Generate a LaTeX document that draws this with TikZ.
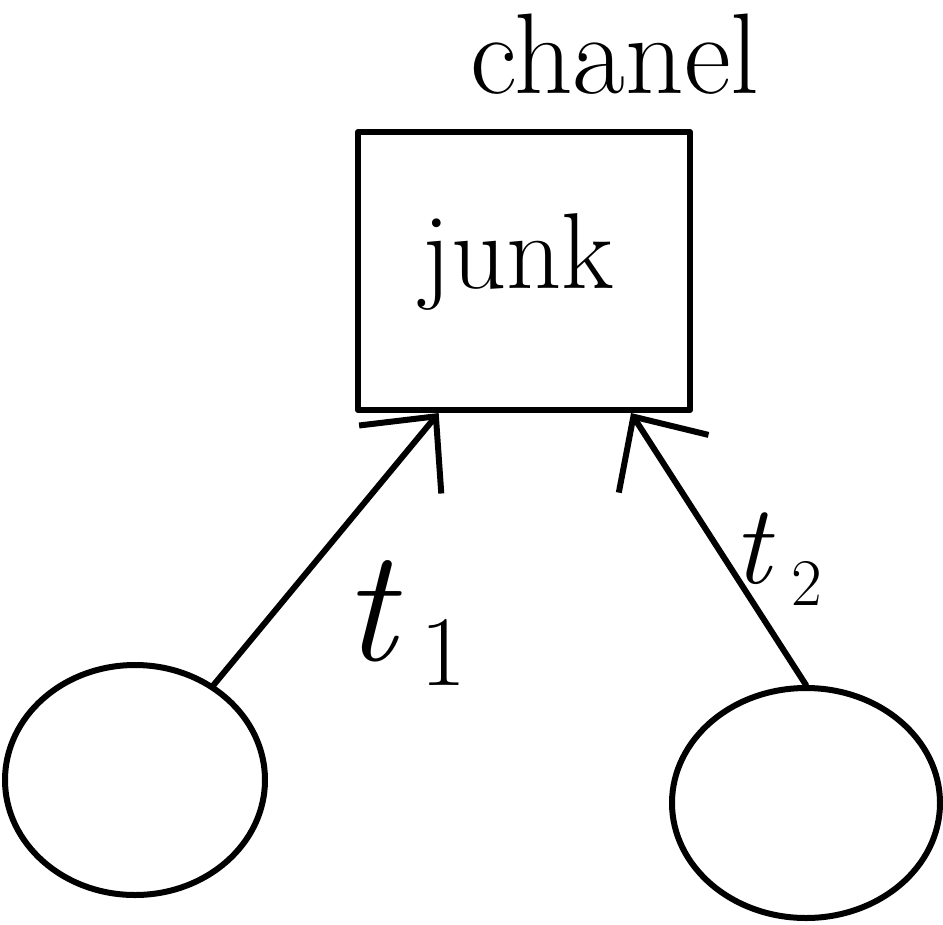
\documentclass[tikz,border=0pt]{standalone}
\usetikzlibrary{shapes.geometric,arrows.meta}
\begin{document}
\begin{tikzpicture}[x=0.75pt,y=-0.75pt,line width=4.5pt,line cap=round,line join=round,
  boxnode/.style={draw,rectangle,minimum width=249pt,minimum height=208.5pt,inner sep=0pt},
  blob/.style={draw,ellipse,inner sep=0pt},
  lbl/.style={inner sep=0pt,anchor=base west},
  arr/.style={-{Straight Barb[length=42pt,width=80pt,line width=4.5pt]}}]
\useasboundingbox (0,0) rectangle (943,925);
\node[boxnode] (box) at (524,271) {};
\node[inner sep=0pt,font=\fontsize{81}{90}\selectfont] (junk) at (518,262) {junk};
\node[inner sep=0pt,font=\fontsize{86}{95}\selectfont] (chan) at (615,54) {chanel};
\node[blob,minimum width=195pt,minimum height=172.5pt] (c1) at (135,780) {};
\node[blob,minimum width=201pt,minimum height=172.5pt] (c2) at (806,803) {};
\draw[arr] (c1) -- (box.-121);
\draw[arr] (c2.north) -- (box.-53);
\node[lbl,font=\fontsize{120}{130}\selectfont] (t1) at (340,660)
  {\textit{t}\kern0.12em\raisebox{-0.16em}{\fontsize{75}{80}\selectfont 1}};
\node[lbl,font=\fontsize{85}{95}\selectfont] (t2) at (730,583)
  {\textit{t}\kern0.15em\raisebox{-0.2em}{\fontsize{50}{60}\selectfont 2}};
\end{tikzpicture}
\end{document}
